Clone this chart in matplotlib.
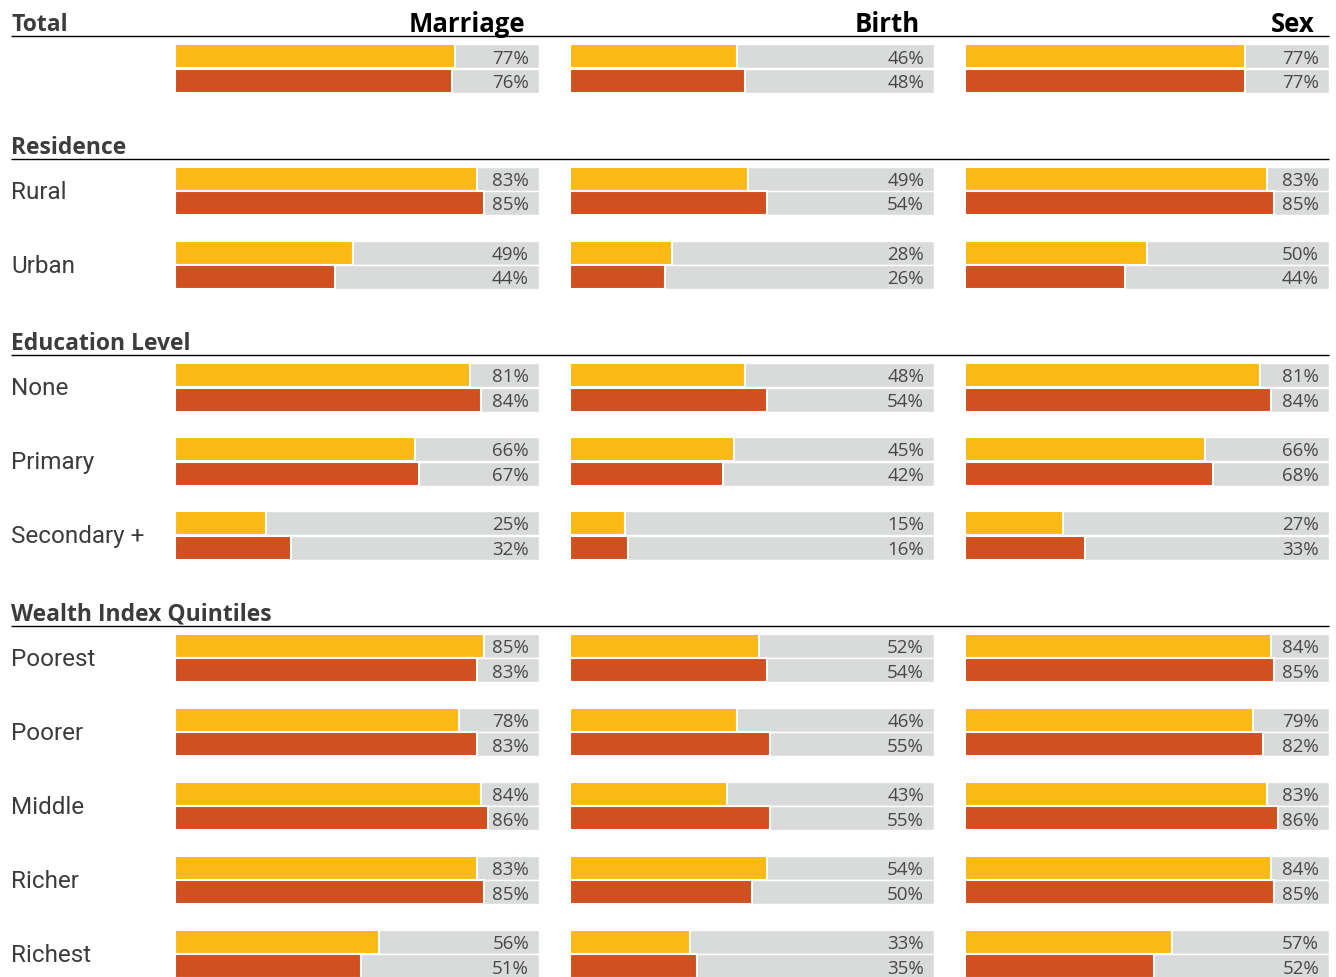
import matplotlib.pyplot as plt

plt.rcParams['font.family'] = ['Roboto', 'DejaVu Sans']
HEAD_FONT = ['Open Sans', 'DejaVu Sans']

columns = ['Marriage', 'Birth', 'Sex']
sections = ['Total', 'Residence', 'Education Level', 'Wealth Index Quintiles']
labels = ['', 'Rural', 'Urban', 'None', 'Primary', 'Secondary +',
          'Poorest', 'Poorer', 'Middle', 'Richer', 'Richest']
row_section = [0, 1, 1, 2, 2, 2, 3, 3, 3, 3, 3]

marriage_yellow = [77, 83, 49, 81, 66, 25, 85, 78, 84, 83, 56]
marriage_orange = [76, 85, 44, 84, 67, 32, 83, 83, 86, 85, 51]
birth_yellow = [46, 49, 28, 48, 45, 15, 52, 46, 43, 54, 33]
birth_orange = [48, 54, 26, 54, 42, 16, 54, 55, 55, 50, 35]
sex_yellow = [77, 83, 50, 81, 66, 27, 84, 79, 83, 84, 57]
sex_orange = [77, 85, 44, 84, 68, 33, 85, 82, 86, 85, 52]

yellow_vals = [marriage_yellow, birth_yellow, sex_yellow]
orange_vals = [marriage_orange, birth_orange, sex_orange]

YELLOW = '#FBB916'
ORANGE = '#D1501F'
GRAY = '#D9DADA'
TEXT = '#3c3c3c'

W, H = 1336, 978
fig = plt.figure(figsize=(W / 100, H / 100), dpi=100)
fig.patch.set_facecolor('white')

# background axes in pixel units, for headers, rules and row labels
bg = fig.add_axes([0, 0, 1, 1])
bg.set_xlim(0, W)
bg.set_ylim(H, 0)
bg.axis('off')

# work out the vertical layout
line_y = []
y_yellow = []
y_orange = []
for k, sec in enumerate(row_section):
    if k == 0:
        line = 37
    elif sec != row_section[k - 1]:
        line = y_orange[-1] + 78
    else:
        line = None
    if line is not None:
        line_y.append(line)
        yc = line + 20
    else:
        yc = y_yellow[-1] + 74
    y_yellow.append(yc)
    y_orange.append(yc + 24.5)

# section rules and titles
for sec, ly in zip(sections, line_y):
    bg.plot([11, 1329], [ly, ly], color='black', lw=1.0, solid_capstyle='butt')
    bg.text(11, ly - 6, sec, fontsize=16.5, fontweight='bold', color=TEXT,
            family=HEAD_FONT, ha='left', va='baseline')

# row labels
for lab, yy, yo in zip(labels, y_yellow, y_orange):
    if lab:
        bg.text(11, (yy + yo) / 2 + 7, lab, fontsize=17.5, color=TEXT,
                ha='left', va='baseline')

col_left = [175, 570, 965]
col_width = 364
for i, name in enumerate(columns):
    ax = fig.add_axes([col_left[i] / W, 0, col_width / W, 1])
    ax.set_xlim(0, 100)
    ax.set_ylim(H, 0)
    ax.axis('off')

    for ys, vals, color in [(y_yellow, yellow_vals[i], YELLOW),
                            (y_orange, orange_vals[i], ORANGE)]:
        ax.barh(ys, [100] * len(ys), height=24, color=GRAY,
                edgecolor='white', linewidth=1)
        ax.barh(ys, vals, height=24, color=color,
                edgecolor='white', linewidth=1.5)
        for y, v in zip(ys, vals):
            ax.annotate(f'{v}%', xy=(100, y + 6.5), xytext=(-10, 0),
                        textcoords='offset pixels', ha='right',
                        va='baseline', fontsize=13.5, color='#484848',
                        family=HEAD_FONT)

    ax.annotate(name, xy=(100, line_y[0] - 5), xytext=(-14, 0),
                textcoords='offset pixels', ha='right', va='baseline',
                fontsize=18.5, fontweight='bold', color='black',
                family=HEAD_FONT, annotation_clip=False)

fig.savefig('out.png', dpi=100, facecolor='white')
